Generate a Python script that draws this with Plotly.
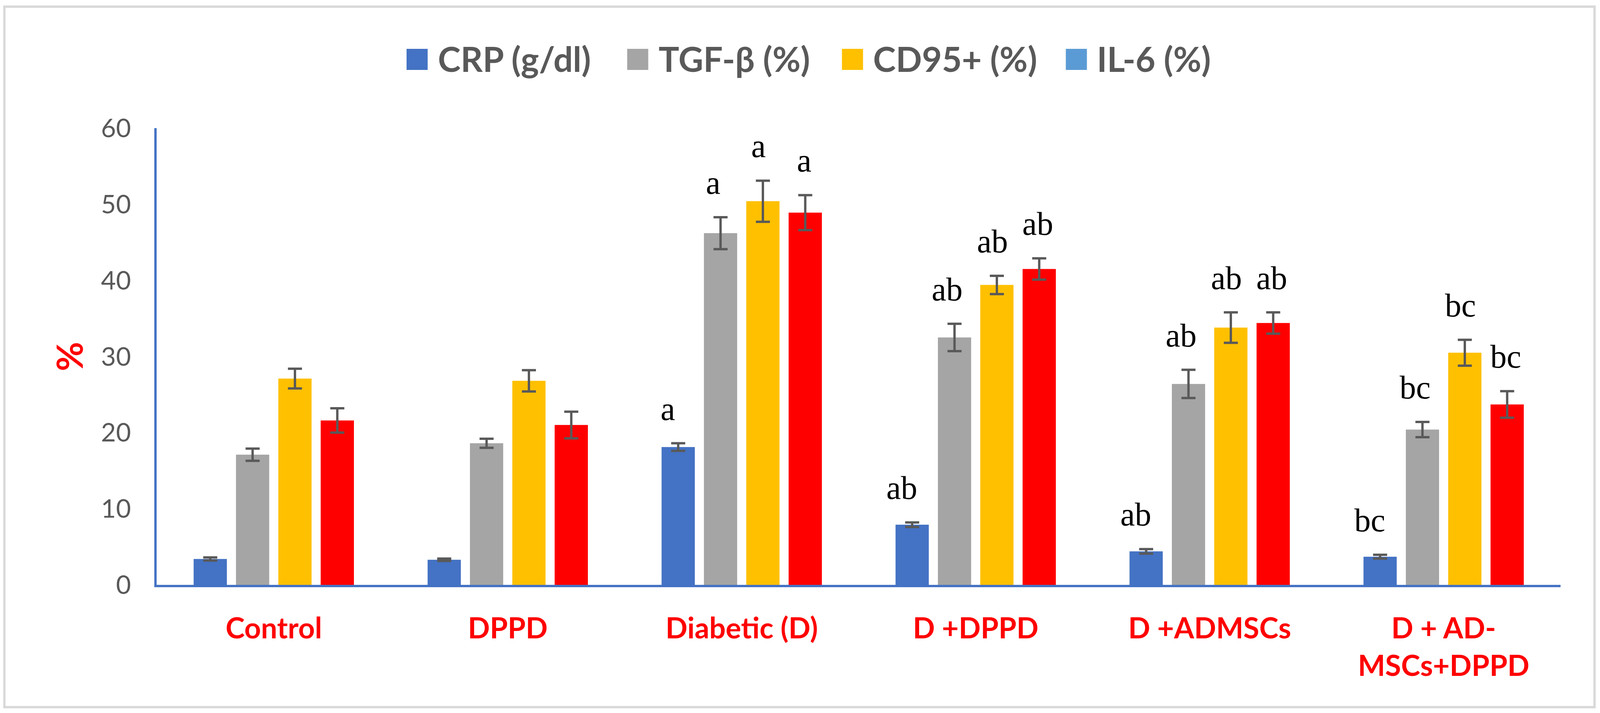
import plotly.graph_objects as go

# ---------------- data ----------------
categories = ["Control", "DPPD", "Diabetic (D)", "D +DPPD", "D +ADMSCs", "D + AD-<br>MSCs+DPPD"]
series_names = ["CRP (g/dl)", "TGF-β (%)", "CD95+ (%)", "IL-6 (%)"]

crp = [3.4, 3.3, 18.1, 7.9, 4.4, 3.7]
crp_err = [0.2, 0.15, 0.5, 0.3, 0.3, 0.25]
tgf = [17.1, 18.6, 46.2, 32.5, 26.4, 20.4]
tgf_err = [0.8, 0.6, 2.1, 1.8, 1.85, 1.0]
cd95 = [27.1, 26.8, 50.4, 39.4, 33.8, 30.5]
cd95_err = [1.3, 1.4, 2.7, 1.2, 2.0, 1.7]
il6 = [21.6, 21.0, 48.9, 41.5, 34.4, 23.7]
il6_err = [1.6, 1.75, 2.3, 1.4, 1.4, 1.75]

crp_sig = ["", "", "a", "ab", "ab", "bc"]
tgf_sig = ["", "", "a", "ab", "ab", "bc"]
cd95_sig = ["", "", "a", "ab", "ab", "bc"]
il6_sig = ["", "", "a", "ab", "ab", "bc"]

y_ticks = [0, 10, 20, 30, 40, 50, 60]

# ---------------- styling / layout (reference frame 4388 x 1825 px) ----------------
bar_colors = ["#4472C4", "#A5A5A5", "#FFC000", "#FF0000"]
legend_colors = ["#4472C4", "#A5A5A5", "#FFC000", "#5B9BD5"]
REF_W, REF_H = 4388, 1825
PLOT_LEFT, PLOT_RIGHT, PLOT_TOP, PLOT_BOTTOM = 430, 4280, 328, 1497
BARGAP, BARGROUPGAP = 0.276, 0.215


def fx(px):
    return px / REF_W


def fy(py):
    return 1 - py / REF_H


values = [crp, tgf, cd95, il6]
errors = [crp_err, tgf_err, cd95_err, il6_err]
sigs = [crp_sig, tgf_sig, cd95_sig, il6_sig]

fig = go.Figure()
for name, vals, errs, col in zip(series_names, values, errors, bar_colors):
    fig.add_trace(go.Bar(
        x=categories, y=vals, name=name, marker_color=col, marker_line_width=0,
        error_y=dict(type="data", array=errs, visible=True, color="#595959",
                     thickness=6, width=18),
        showlegend=False,
    ))

# significance letters above the error bars
cat_px = (PLOT_RIGHT - PLOT_LEFT) / len(categories)
slot_px = (1 - BARGAP) / len(series_names) * cat_px
annotations = []
for i, (vals, errs, sg) in enumerate(zip(values, errors, sigs)):
    off = (i - (len(series_names) - 1) / 2) * slot_px
    for c, v, e, s in zip(categories, vals, errs, sg):
        if not s:
            continue
        annotations.append(dict(
            x=c, y=v + e, xref="x", yref="y", text=s, showarrow=False,
            xanchor="center", yanchor="bottom", xshift=off - 15, yshift=40,
            font=dict(family="Liberation Serif", size=84, color="#000000"),
        ))

# legend (drawn manually so the swatches have the original size)
legend_left_px = [1115, 1720, 2309, 2923]
shapes = []
for name, col, lx in zip(series_names, legend_colors, legend_left_px):
    shapes.append(dict(type="rect", xref="paper", yref="paper",
                       xsizemode="pixel", ysizemode="pixel",
                       xanchor=fx(lx), yanchor=fy(152),
                       x0=0, x1=54, y0=-27, y1=27,
                       fillcolor=col, line_width=0))
    annotations.append(dict(
        x=fx(lx), y=fy(150), xref="paper", yref="paper", text=name,
        showarrow=False, xanchor="left", yanchor="middle", xshift=78,
        font=dict(family="Lato", size=88, color="#595959", weight="bold"),
    ))

# outer chart border
shapes.append(dict(type="rect", xref="paper", yref="paper",
                   x0=fx(12), x1=fx(4373), y0=fy(1810), y1=fy(17),
                   line=dict(color="#D9D9D9", width=6), fillcolor="rgba(0,0,0,0)",
                   layer="below"))

fig.update_layout(
    autosize=True,
    margin=dict(l=0, r=0, t=0, b=0, autoexpand=False),
    paper_bgcolor="white", plot_bgcolor="white",
    barmode="group", bargap=BARGAP, bargroupgap=BARGROUPGAP,
    showlegend=False,
    annotations=annotations, shapes=shapes,
    font=dict(family="Lato"),
)
fig.update_xaxes(
    domain=[fx(PLOT_LEFT), fx(PLOT_RIGHT)],
    showline=True, linecolor="#4472C4", linewidth=6, showgrid=False,
    ticks="outside", ticklen=42, tickcolor="rgba(0,0,0,0)",
    tickfont=dict(family="Lato", size=74, color="#FF0000", weight="bold"),
    tickangle=0,
)
fig.update_yaxes(
    domain=[fy(PLOT_BOTTOM), fy(PLOT_TOP)],
    range=[0, 60], tickvals=y_ticks, showline=True, linecolor="#4472C4", linewidth=6,
    showgrid=False, zeroline=False,
    ticks="outside", ticklen=47, tickcolor="rgba(0,0,0,0)",
    tickfont=dict(family="Lato", size=66, color="#595959"),
    title=dict(text="%", font=dict(family="Lato", size=92, color="#FF0000", weight="bold"),
               standoff=17),
)

fig.write_html(
    "out.html",
    default_width="100%",
    default_height="100%",
    config={"displayModeBar": False},
    post_script=(
        "document.body.style.margin='0';document.body.style.overflow='hidden';"
        "Plotly.Plots.resize(document.getElementById('{plot_id}'));"
    ),
)
